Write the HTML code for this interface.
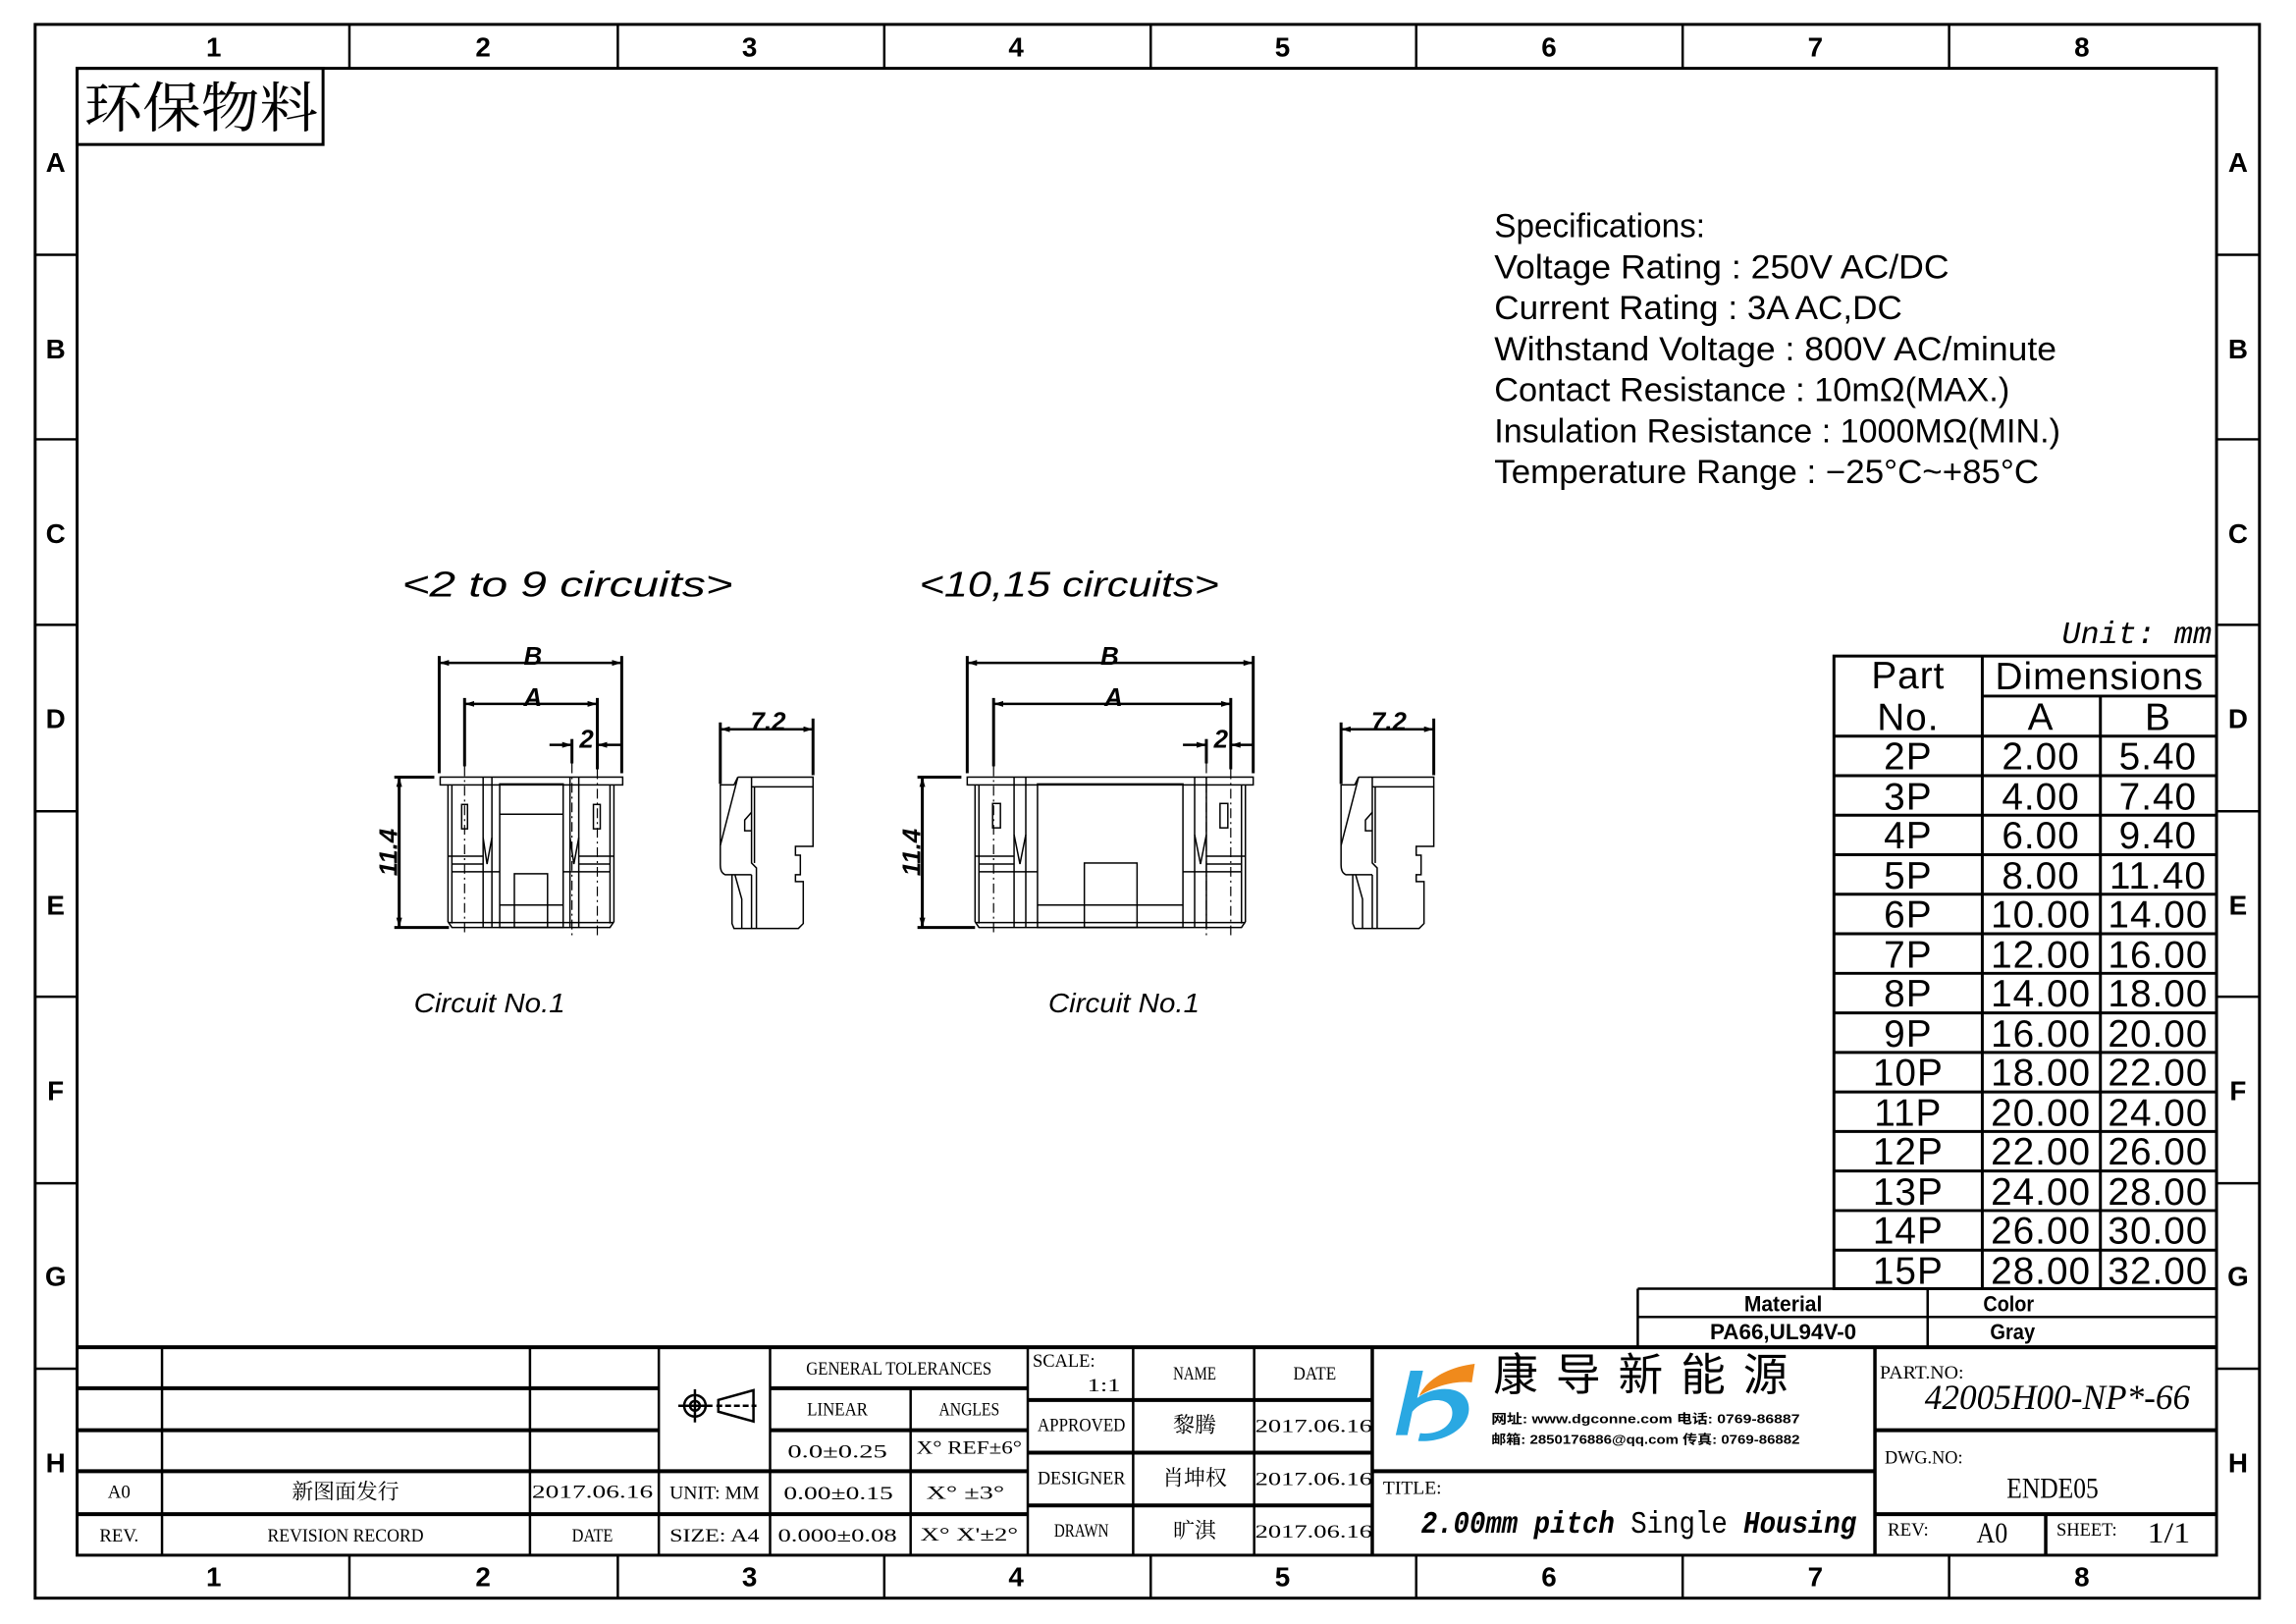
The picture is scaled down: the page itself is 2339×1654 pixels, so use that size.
<!DOCTYPE html>
<html><head><meta charset="utf-8"><style>
html,body{margin:0;padding:0;background:#fff;}
svg{display:block;}
.fr{font-family:"Liberation Sans",sans-serif;font-weight:bold;}
.sr{font-family:"Liberation Serif","Noto Serif CJK SC",serif;}
.ss{font-family:"Liberation Sans","Noto Sans CJK SC",sans-serif;}
</style></head><body>
<svg width="2339" height="1654" viewBox="0 0 2339 1654" xmlns="http://www.w3.org/2000/svg">
<defs>
<marker id="ar" viewBox="0 0 10 6" refX="10" refY="3" markerWidth="10" markerHeight="6" markerUnits="userSpaceOnUse" orient="auto"><path d="M0,0 L10,3 L0,6 z" fill="#000"/></marker>
<marker id="al" viewBox="0 0 10 6" refX="0" refY="3" markerWidth="10" markerHeight="6" markerUnits="userSpaceOnUse" orient="auto"><path d="M10,0 L0,3 L10,6 z" fill="#000"/></marker>
</defs>
<rect width="2339" height="1654" fill="#fff"/>
<g transform="scale(0.9943)">
<!-- frames -->
<rect x="36" y="25" width="2279" height="1612" fill="none" stroke="#000" stroke-width="3"/>
<rect x="79" y="70" width="2192" height="1523" fill="none" stroke="#000" stroke-width="3"/>
<g stroke="#000" stroke-width="2.5">
<line x1="358" y1="25" x2="358" y2="70"/><line x1="633" y1="25" x2="633" y2="70"/><line x1="906" y1="25" x2="906" y2="70"/><line x1="1179" y1="25" x2="1179" y2="70"/><line x1="1451" y1="25" x2="1451" y2="70"/><line x1="1724" y1="25" x2="1724" y2="70"/><line x1="1997" y1="25" x2="1997" y2="70"/>
<line x1="358" y1="1593" x2="358" y2="1637"/><line x1="633" y1="1593" x2="633" y2="1637"/><line x1="906" y1="1593" x2="906" y2="1637"/><line x1="1179" y1="1593" x2="1179" y2="1637"/><line x1="1451" y1="1593" x2="1451" y2="1637"/><line x1="1724" y1="1593" x2="1724" y2="1637"/><line x1="1997" y1="1593" x2="1997" y2="1637"/>
<line x1="36" y1="261" x2="79" y2="261"/><line x1="36" y1="450" x2="79" y2="450"/><line x1="36" y1="640" x2="79" y2="640"/><line x1="36" y1="831" x2="79" y2="831"/><line x1="36" y1="1021" x2="79" y2="1021"/><line x1="36" y1="1212" x2="79" y2="1212"/><line x1="36" y1="1402" x2="79" y2="1402"/>
<line x1="2271" y1="261" x2="2315" y2="261"/><line x1="2271" y1="450" x2="2315" y2="450"/><line x1="2271" y1="640" x2="2315" y2="640"/><line x1="2271" y1="831" x2="2315" y2="831"/><line x1="2271" y1="1021" x2="2315" y2="1021"/><line x1="2271" y1="1212" x2="2315" y2="1212"/><line x1="2271" y1="1402" x2="2315" y2="1402"/>
</g>
<g class="fr" font-size="28" text-anchor="middle">
<text x="219" y="58">1</text><text x="495" y="58">2</text><text x="768" y="58">3</text><text x="1041" y="58">4</text><text x="1314" y="58">5</text><text x="1587" y="58">6</text><text x="1860" y="58">7</text><text x="2133" y="58">8</text>
<text x="219" y="1625">1</text><text x="495" y="1625">2</text><text x="768" y="1625">3</text><text x="1041" y="1625">4</text><text x="1314" y="1625">5</text><text x="1587" y="1625">6</text><text x="1860" y="1625">7</text><text x="2133" y="1625">8</text>
<text x="57" y="176">A</text><text x="57" y="367">B</text><text x="57" y="556">C</text><text x="57" y="746">D</text><text x="57" y="937">E</text><text x="57" y="1127">F</text><text x="57" y="1317">G</text><text x="57" y="1508">H</text>
<text x="2293" y="176">A</text><text x="2293" y="367">B</text><text x="2293" y="556">C</text><text x="2293" y="746">D</text><text x="2293" y="937">E</text><text x="2293" y="1127">F</text><text x="2293" y="1317">G</text><text x="2293" y="1508">H</text>
</g>
<!-- 环保物料 -->
<rect x="79" y="70" width="252" height="78" fill="none" stroke="#000" stroke-width="3"/>
<text x="86" y="130" class="sr" font-size="56" textLength="240" lengthAdjust="spacingAndGlyphs">环保物料</text>
<!-- specs -->
<g class="ss" font-size="34">
<text x="1531" y="243" textLength="216" lengthAdjust="spacingAndGlyphs">Specifications:</text>
<text x="1531" y="285" textLength="466" lengthAdjust="spacingAndGlyphs">Voltage  Rating  :  250V  AC/DC</text>
<text x="1531" y="327" textLength="418" lengthAdjust="spacingAndGlyphs">Current  Rating  :  3A  AC,DC</text>
<text x="1531" y="369" textLength="576" lengthAdjust="spacingAndGlyphs">Withstand  Voltage  :  800V  AC/minute</text>
<text x="1531" y="411" textLength="528" lengthAdjust="spacingAndGlyphs">Contact  Resistance  :  10mΩ(MAX.)</text>
<text x="1531" y="453" textLength="580" lengthAdjust="spacingAndGlyphs">Insulation  Resistance  :  1000MΩ(MIN.)</text>
<text x="1531" y="495" textLength="558" lengthAdjust="spacingAndGlyphs">Temperature  Range  :  −25°C~+85°C</text>
</g>
<!-- headings -->
<g class="ss" font-style="italic" font-size="36">
<text x="412" y="611" textLength="339" lengthAdjust="spacingAndGlyphs">&lt;2  to  9  circuits&gt;</text>
<text x="942" y="611" textLength="307" lengthAdjust="spacingAndGlyphs">&lt;10,15  circuits&gt;</text>
<text x="424" y="1037" font-size="28" textLength="155" lengthAdjust="spacingAndGlyphs">Circuit  No.1</text>
<text x="1074" y="1037" font-size="28" textLength="155" lengthAdjust="spacingAndGlyphs">Circuit  No.1</text>
</g>
<!-- FRONT VIEW 1 -->
<g fill="none" stroke="#000">
<g stroke-width="3">
<line x1="450" y1="672" x2="450" y2="792"/><line x1="637" y1="672" x2="637" y2="792"/>
<line x1="476" y1="715" x2="476" y2="785"/><line x1="612" y1="715" x2="612" y2="788"/>
<line x1="586" y1="757" x2="586" y2="782"/>
<line x1="409" y1="796" x2="409" y2="950"/>
<line x1="404" y1="796" x2="445" y2="796"/><line x1="404" y1="950" x2="460" y2="950"/>
</g>
<g stroke-width="2.5">
<line x1="450" y1="679" x2="637" y2="679" marker-start="url(#al)" marker-end="url(#ar)"/>
<line x1="476" y1="721" x2="612" y2="721" marker-start="url(#al)" marker-end="url(#ar)"/>
<line x1="563" y1="763" x2="586" y2="763" marker-end="url(#ar)"/>
<line x1="637" y1="763" x2="612" y2="763" marker-end="url(#ar)"/>
<line x1="409" y1="796" x2="409" y2="950" marker-start="url(#al)" marker-end="url(#ar)"/>
</g>
<g stroke-width="1.2" stroke-dasharray="10,4,2,4">
<line x1="476" y1="785" x2="476" y2="958"/><line x1="612" y1="788" x2="612" y2="958"/><line x1="586" y1="782" x2="586" y2="958"/>
</g>
<g stroke-width="1.5">
<rect x="451" y="796" width="187" height="8"/>
<path d="M459,804 V944 L463,950 H625 L629,944 V804"/>
<line x1="463" y1="804" x2="463" y2="946"/><line x1="625" y1="804" x2="625" y2="946"/>
<line x1="459" y1="945" x2="629" y2="945"/>
<line x1="459" y1="877" x2="495" y2="877"/><line x1="593" y1="877" x2="629" y2="877"/>
<line x1="463" y1="885" x2="495" y2="885"/><line x1="593" y1="885" x2="625" y2="885"/>
<line x1="463" y1="893" x2="512" y2="893"/><line x1="577" y1="893" x2="625" y2="893"/>
<line x1="495" y1="796" x2="495" y2="950"/><line x1="504" y1="796" x2="504" y2="950"/>
<line x1="584" y1="796" x2="584" y2="950"/><line x1="593" y1="796" x2="593" y2="950"/>
<path d="M495,858 L499,885 L504,858"/><path d="M584,858 L588,885 L593,858"/>
<rect x="512" y="803" width="65" height="147"/>
<line x1="512" y1="834" x2="577" y2="834"/>
<rect x="527" y="895" width="34" height="55"/>
<line x1="512" y1="927" x2="577" y2="927"/>
<rect x="473" y="824" width="6" height="25"/><rect x="608" y="824" width="7" height="25"/>
</g>
</g>
<g class="ss" font-weight="bold" font-style="italic" font-size="26" text-anchor="middle">
<text x="546" y="681">B</text><text x="546" y="723">A</text><text x="601" y="766">2</text>
<text transform="translate(407,873) rotate(-90)">11.4</text>
</g>
<!-- FRONT VIEW 2 -->
<g fill="none" stroke="#000">
<g stroke-width="3">
<line x1="991" y1="672" x2="991" y2="792"/><line x1="1284" y1="672" x2="1284" y2="792"/>
<line x1="1018" y1="715" x2="1018" y2="785"/><line x1="1261" y1="715" x2="1261" y2="788"/>
<line x1="1236" y1="757" x2="1236" y2="782"/>
<line x1="945" y1="796" x2="945" y2="950"/>
<line x1="940" y1="796" x2="985" y2="796"/><line x1="940" y1="950" x2="999" y2="950"/>
</g>
<g stroke-width="2.5">
<line x1="991" y1="679" x2="1284" y2="679" marker-start="url(#al)" marker-end="url(#ar)"/>
<line x1="1018" y1="721" x2="1261" y2="721" marker-start="url(#al)" marker-end="url(#ar)"/>
<line x1="1212" y1="763" x2="1236" y2="763" marker-end="url(#ar)"/>
<line x1="1284" y1="763" x2="1261" y2="763" marker-end="url(#ar)"/>
<line x1="945" y1="796" x2="945" y2="950" marker-start="url(#al)" marker-end="url(#ar)"/>
</g>
<g stroke-width="1.2" stroke-dasharray="10,4,2,4">
<line x1="1018" y1="785" x2="1018" y2="958"/><line x1="1261" y1="788" x2="1261" y2="958"/><line x1="1236" y1="782" x2="1236" y2="958"/>
</g>
<g stroke-width="1.5">
<rect x="991" y="796" width="293" height="8"/>
<path d="M999,804 V944 L1003,950 H1272 L1276,944 V804"/>
<line x1="1003" y1="804" x2="1003" y2="946"/><line x1="1272" y1="804" x2="1272" y2="946"/>
<line x1="999" y1="945" x2="1276" y2="945"/>
<line x1="999" y1="877" x2="1039" y2="877"/><line x1="1236" y1="877" x2="1276" y2="877"/>
<line x1="1003" y1="885" x2="1039" y2="885"/><line x1="1236" y1="885" x2="1272" y2="885"/>
<line x1="1003" y1="893" x2="1063" y2="893"/><line x1="1212" y1="893" x2="1272" y2="893"/>
<line x1="1039" y1="796" x2="1039" y2="950"/><line x1="1051" y1="796" x2="1051" y2="950"/>
<line x1="1224" y1="796" x2="1224" y2="950"/><line x1="1236" y1="796" x2="1236" y2="950"/>
<path d="M1039,855 L1045,885 L1051,855"/><path d="M1224,855 L1230,885 L1236,855"/>
<rect x="1063" y="803" width="149" height="147"/>
<rect x="1111" y="884" width="54" height="66"/>
<line x1="1063" y1="927" x2="1212" y2="927"/>
<rect x="1017" y="823" width="8" height="25"/><rect x="1250" y="823" width="8" height="25"/>
</g>
</g>
<g class="ss" font-weight="bold" font-style="italic" font-size="26" text-anchor="middle">
<text x="1137" y="681">B</text><text x="1141" y="723">A</text><text x="1251" y="766">2</text>
<text transform="translate(943,873) rotate(-90)">11.4</text>
</g>
<!-- SIDE VIEWS -->
<g transform="translate(738,796)" fill="none" stroke="#000">
<line x1="0" y1="-56" x2="0" y2="7" stroke-width="3"/><line x1="95" y1="-60" x2="95" y2="-2" stroke-width="3"/>
<line x1="0" y1="-49" x2="95" y2="-49" stroke-width="2.5" marker-start="url(#al)" marker-end="url(#ar)"/>
<g stroke-width="1.5">
<path d="M18,0 H95 V71 H77 V80 H82 V100 H77 V107 H85 V150 L80,155 H14 L12,150 V100"/>
<line x1="32" y1="10" x2="95" y2="10"/>
<path d="M18,0 L14,8 H0 V90 Q0,98 5,100 H32"/>
<path d="M18,0 L0,70"/>
<path d="M32,0 V88 L37,93 V155"/><line x1="35" y1="10" x2="35" y2="88"/>
<path d="M32,36 L25,44 V55 H32"/>
<path d="M15,100 L22,125 V155"/><line x1="32" y1="100" x2="32" y2="155"/>
</g>
</g>
<g transform="translate(1374,796)" fill="none" stroke="#000">
<line x1="0" y1="-56" x2="0" y2="7" stroke-width="3"/><line x1="95" y1="-60" x2="95" y2="-2" stroke-width="3"/>
<line x1="0" y1="-49" x2="95" y2="-49" stroke-width="2.5" marker-start="url(#al)" marker-end="url(#ar)"/>
<g stroke-width="1.5">
<path d="M18,0 H95 V71 H77 V80 H82 V100 H77 V107 H85 V150 L80,155 H14 L12,150 V100"/>
<line x1="32" y1="10" x2="95" y2="10"/>
<path d="M18,0 L14,8 H0 V90 Q0,98 5,100 H32"/>
<path d="M18,0 L0,70"/>
<path d="M32,0 V88 L37,93 V155"/><line x1="35" y1="10" x2="35" y2="88"/>
<path d="M32,36 L25,44 V55 H32"/>
<path d="M15,100 L22,125 V155"/><line x1="32" y1="100" x2="32" y2="155"/>
</g>
</g>
<g class="ss" font-weight="bold" font-style="italic" font-size="26" text-anchor="middle">
<text x="787" y="748">7.2</text><text x="1423" y="748">7.2</text>
</g>
<!-- Unit -->
<text x="2266" y="659" text-anchor="end" font-family="Liberation Mono,monospace" font-style="italic" font-size="32">Unit: mm</text>
<!-- Dimensions table -->
<g stroke="#000" stroke-width="3" fill="none">
<rect x="1879" y="672" width="392" height="648"/>
<line x1="2031" y1="672" x2="2031" y2="1320"/>
<line x1="2152" y1="713" x2="2152" y2="1320"/>
<line x1="2031" y1="713" x2="2271" y2="713"/>
<line x1="1879" y1="754" x2="2271" y2="754"/>
<line x1="1879" y1="794.5" x2="2271" y2="794.5"/><line x1="1879" y1="835" x2="2271" y2="835"/><line x1="1879" y1="875.5" x2="2271" y2="875.5"/><line x1="1879" y1="916" x2="2271" y2="916"/><line x1="1879" y1="956.5" x2="2271" y2="956.5"/><line x1="1879" y1="997" x2="2271" y2="997"/><line x1="1879" y1="1037.5" x2="2271" y2="1037.5"/><line x1="1879" y1="1078" x2="2271" y2="1078"/><line x1="1879" y1="1118.5" x2="2271" y2="1118.5"/><line x1="1879" y1="1159" x2="2271" y2="1159"/><line x1="1879" y1="1199.5" x2="2271" y2="1199.5"/><line x1="1879" y1="1240" x2="2271" y2="1240"/><line x1="1879" y1="1280.5" x2="2271" y2="1280.5"/>
</g>
<g class="ss" font-size="39" text-anchor="middle" letter-spacing="1">
<text x="1955" y="705">Part</text><text x="1955" y="748">No.</text>
<text x="2151" y="706">Dimensions</text><text x="2091" y="748">A</text><text x="2211" y="748">B</text>
<text x="1955" y="788">2P</text><text x="2091" y="788">2.00</text><text x="2211" y="788">5.40</text>
<text x="1955" y="829">3P</text><text x="2091" y="829">4.00</text><text x="2211" y="829">7.40</text>
<text x="1955" y="869">4P</text><text x="2091" y="869">6.00</text><text x="2211" y="869">9.40</text>
<text x="1955" y="910">5P</text><text x="2091" y="910">8.00</text><text x="2211" y="910">11.40</text>
<text x="1955" y="950">6P</text><text x="2091" y="950">10.00</text><text x="2211" y="950">14.00</text>
<text x="1955" y="991">7P</text><text x="2091" y="991">12.00</text><text x="2211" y="991">16.00</text>
<text x="1955" y="1031">8P</text><text x="2091" y="1031">14.00</text><text x="2211" y="1031">18.00</text>
<text x="1955" y="1072">9P</text><text x="2091" y="1072">16.00</text><text x="2211" y="1072">20.00</text>
<text x="1955" y="1112">10P</text><text x="2091" y="1112">18.00</text><text x="2211" y="1112">22.00</text>
<text x="1955" y="1153">11P</text><text x="2091" y="1153">20.00</text><text x="2211" y="1153">24.00</text>
<text x="1955" y="1193">12P</text><text x="2091" y="1193">22.00</text><text x="2211" y="1193">26.00</text>
<text x="1955" y="1234">13P</text><text x="2091" y="1234">24.00</text><text x="2211" y="1234">28.00</text>
<text x="1955" y="1274">14P</text><text x="2091" y="1274">26.00</text><text x="2211" y="1274">30.00</text>
<text x="1955" y="1315">15P</text><text x="2091" y="1315">28.00</text><text x="2211" y="1315">32.00</text>
</g>
<!-- Material -->
<g stroke="#000" stroke-width="2.5" fill="none">
<line x1="1678" y1="1320" x2="1879" y2="1320"/>
<line x1="1678" y1="1320" x2="1678" y2="1380"/>
<line x1="1678" y1="1349" x2="2271" y2="1349"/>
<line x1="1975" y1="1320" x2="1975" y2="1380"/>
</g>
<g class="ss" font-weight="bold" font-size="22" text-anchor="middle">
<text x="1827" y="1343" textLength="80" lengthAdjust="spacingAndGlyphs">Material</text>
<text x="1827" y="1372" textLength="150" lengthAdjust="spacingAndGlyphs">PA66,UL94V-0</text>
<text x="2058" y="1343" textLength="52" lengthAdjust="spacingAndGlyphs">Color</text>
<text x="2062" y="1372" textLength="46" lengthAdjust="spacingAndGlyphs">Gray</text>
</g>
<!-- Title block lines -->
<g stroke="#000" stroke-width="4" fill="none">
<line x1="79" y1="1380" x2="2271" y2="1380"/>
<line x1="79" y1="1422" x2="675" y2="1422"/>
<line x1="79" y1="1465" x2="675" y2="1465"/>
<line x1="79" y1="1507" x2="1053" y2="1507"/>
<line x1="79" y1="1551" x2="1053" y2="1551"/>
<line x1="789" y1="1422" x2="1053" y2="1422"/>
<line x1="789" y1="1465" x2="1053" y2="1465"/>
<line x1="1053" y1="1434" x2="1406" y2="1434"/>
<line x1="1053" y1="1488" x2="1406" y2="1488"/>
<line x1="1053" y1="1542" x2="1406" y2="1542"/>
<line x1="1406" y1="1507" x2="1921" y2="1507"/>
<line x1="1921" y1="1465" x2="2271" y2="1465"/>
<line x1="1921" y1="1551" x2="2271" y2="1551"/>
</g>
<g stroke="#000" stroke-width="2.5" fill="none">
<line x1="166" y1="1380" x2="166" y2="1593"/>
<line x1="543" y1="1380" x2="543" y2="1593"/>
<line x1="675" y1="1380" x2="675" y2="1593"/>
<line x1="789" y1="1380" x2="789" y2="1593"/>
<line x1="933" y1="1422" x2="933" y2="1593"/>
<line x1="1053" y1="1380" x2="1053" y2="1593"/>
<line x1="1161" y1="1380" x2="1161" y2="1593"/>
<line x1="1285" y1="1380" x2="1285" y2="1593"/>
<line x1="1406" y1="1380" x2="1406" y2="1593" stroke-width="3.5"/>
<line x1="1921" y1="1380" x2="1921" y2="1593" stroke-width="3.5"/>
<line x1="2096" y1="1551" x2="2096" y2="1593" stroke-width="3.5"/>
</g>
<!-- tolerance symbol -->
<g fill="none" stroke="#000" stroke-width="2.5">
<circle cx="712" cy="1440" r="11"/><circle cx="712" cy="1440" r="5"/>
<line x1="712" y1="1423" x2="712" y2="1457"/><line x1="695" y1="1440" x2="730" y2="1440"/>
<path d="M736,1434 L772,1424 V1456 L736,1446 Z"/><line x1="734" y1="1440" x2="775" y2="1440" stroke-dasharray="6,3"/>
</g>
<g class="sr" font-size="19" text-anchor="middle">
<text x="921" y="1408" textLength="190" lengthAdjust="spacingAndGlyphs">GENERAL  TOLERANCES</text>
<text x="858" y="1450" textLength="62" lengthAdjust="spacingAndGlyphs">LINEAR</text>
<text x="993" y="1450" textLength="62" lengthAdjust="spacingAndGlyphs">ANGLES</text>
<text x="858" y="1493" textLength="102" lengthAdjust="spacingAndGlyphs">0.0±0.25</text>
<text x="993" y="1489" textLength="108" lengthAdjust="spacingAndGlyphs">X°  REF±6°</text>
<text x="859" y="1536" textLength="112" lengthAdjust="spacingAndGlyphs">0.00±0.15</text>
<text x="989" y="1535" textLength="80" lengthAdjust="spacingAndGlyphs">X°  ±3°</text>
<text x="858" y="1579" textLength="122" lengthAdjust="spacingAndGlyphs">0.000±0.08</text>
<text x="993" y="1578" textLength="100" lengthAdjust="spacingAndGlyphs">X°  X'±2°</text>
<text x="732" y="1535" textLength="92" lengthAdjust="spacingAndGlyphs">UNIT:  MM</text>
<text x="732" y="1579" textLength="92" lengthAdjust="spacingAndGlyphs">SIZE:  A4</text>
<text x="122" y="1534">A0</text>
<text x="354" y="1535" font-size="22">新图面发行</text>
<text x="607" y="1534" textLength="124" lengthAdjust="spacingAndGlyphs">2017.06.16</text>
<text x="122" y="1579" textLength="40" lengthAdjust="spacingAndGlyphs">REV.</text>
<text x="354" y="1579" textLength="160" lengthAdjust="spacingAndGlyphs">REVISION  RECORD</text>
<text x="607" y="1579" textLength="42" lengthAdjust="spacingAndGlyphs">DATE</text>
<text x="1224" y="1413" textLength="44" lengthAdjust="spacingAndGlyphs">NAME</text>
<text x="1347" y="1413" textLength="44" lengthAdjust="spacingAndGlyphs">DATE</text>
<text x="1108" y="1466" textLength="90" lengthAdjust="spacingAndGlyphs">APPROVED</text>
<text x="1224" y="1467" font-size="22">黎腾</text>
<text x="1346" y="1467" textLength="120" lengthAdjust="spacingAndGlyphs">2017.06.16</text>
<text x="1108" y="1520" textLength="90" lengthAdjust="spacingAndGlyphs">DESIGNER</text>
<text x="1224" y="1521" font-size="22">肖坤权</text>
<text x="1346" y="1521" textLength="120" lengthAdjust="spacingAndGlyphs">2017.06.16</text>
<text x="1108" y="1574" textLength="56" lengthAdjust="spacingAndGlyphs">DRAWN</text>
<text x="1224" y="1575" font-size="22">旷淇</text>
<text x="1346" y="1575" textLength="120" lengthAdjust="spacingAndGlyphs">2017.06.16</text>
</g>
<g class="sr" font-size="19">
<text x="1058" y="1400" textLength="64" lengthAdjust="spacingAndGlyphs">SCALE:</text>
<text x="1114" y="1425" textLength="34" lengthAdjust="spacingAndGlyphs">1:1</text>
<text x="1417" y="1530" textLength="60" lengthAdjust="spacingAndGlyphs">TITLE:</text>
<text x="1926" y="1412" textLength="86" lengthAdjust="spacingAndGlyphs">PART.NO:</text>
<text x="1931" y="1499" textLength="80" lengthAdjust="spacingAndGlyphs">DWG.NO:</text>
<text x="1934" y="1573" textLength="42" lengthAdjust="spacingAndGlyphs">REV:</text>
<text x="2107" y="1573" textLength="62" lengthAdjust="spacingAndGlyphs">SHEET:</text>
</g>
<g class="sr" font-size="30" text-anchor="middle">
<text x="2103" y="1534" textLength="94" lengthAdjust="spacingAndGlyphs">ENDE05</text>
<text x="2041" y="1580" textLength="32" lengthAdjust="spacingAndGlyphs">A0</text>
<text x="2222" y="1580" textLength="44" lengthAdjust="spacingAndGlyphs">1/1</text>
</g>
<text x="1972" y="1443" class="sr" font-style="italic" font-size="36" textLength="272" lengthAdjust="spacingAndGlyphs">42005H00-NP*-66</text>
<text x="1456" y="1570" font-family="Liberation Mono,monospace" font-size="32" textLength="446" lengthAdjust="spacingAndGlyphs"><tspan font-style="italic" font-weight="bold">2.00mm pitch</tspan> Single <tspan font-style="italic" font-weight="bold">Housing</tspan></text>
<!-- logo -->
<path d="M1445,1404 L1430,1470 L1442,1470 L1447,1446 C1460,1430 1488,1430 1488,1447 C1488,1463 1470,1470 1455,1468 L1453,1476 C1480,1478 1505,1463 1505,1443 C1505,1420 1473,1417 1452,1432 L1458,1404 Z" fill="#2aa8e2"/>
<path d="M1454,1430 C1462,1412 1485,1400 1511,1397 L1508,1416 C1490,1414 1470,1420 1454,1430 Z" fill="#f08a1c"/>
<text x="1530" y="1424" font-family="'Noto Sans CJK SC',sans-serif" font-size="46" letter-spacing="18">康导新能源</text>
<g font-family="'Liberation Sans','Noto Sans CJK SC',sans-serif" font-weight="bold" font-size="13">
<text x="1528" y="1458" textLength="316" lengthAdjust="spacingAndGlyphs">网址: www.dgconne.com    电话: 0769-86887</text>
<text x="1528" y="1479" textLength="316" lengthAdjust="spacingAndGlyphs">邮箱: 2850176886@qq.com 传真: 0769-86882</text>
</g>
</g>
</svg>
</body></html>
